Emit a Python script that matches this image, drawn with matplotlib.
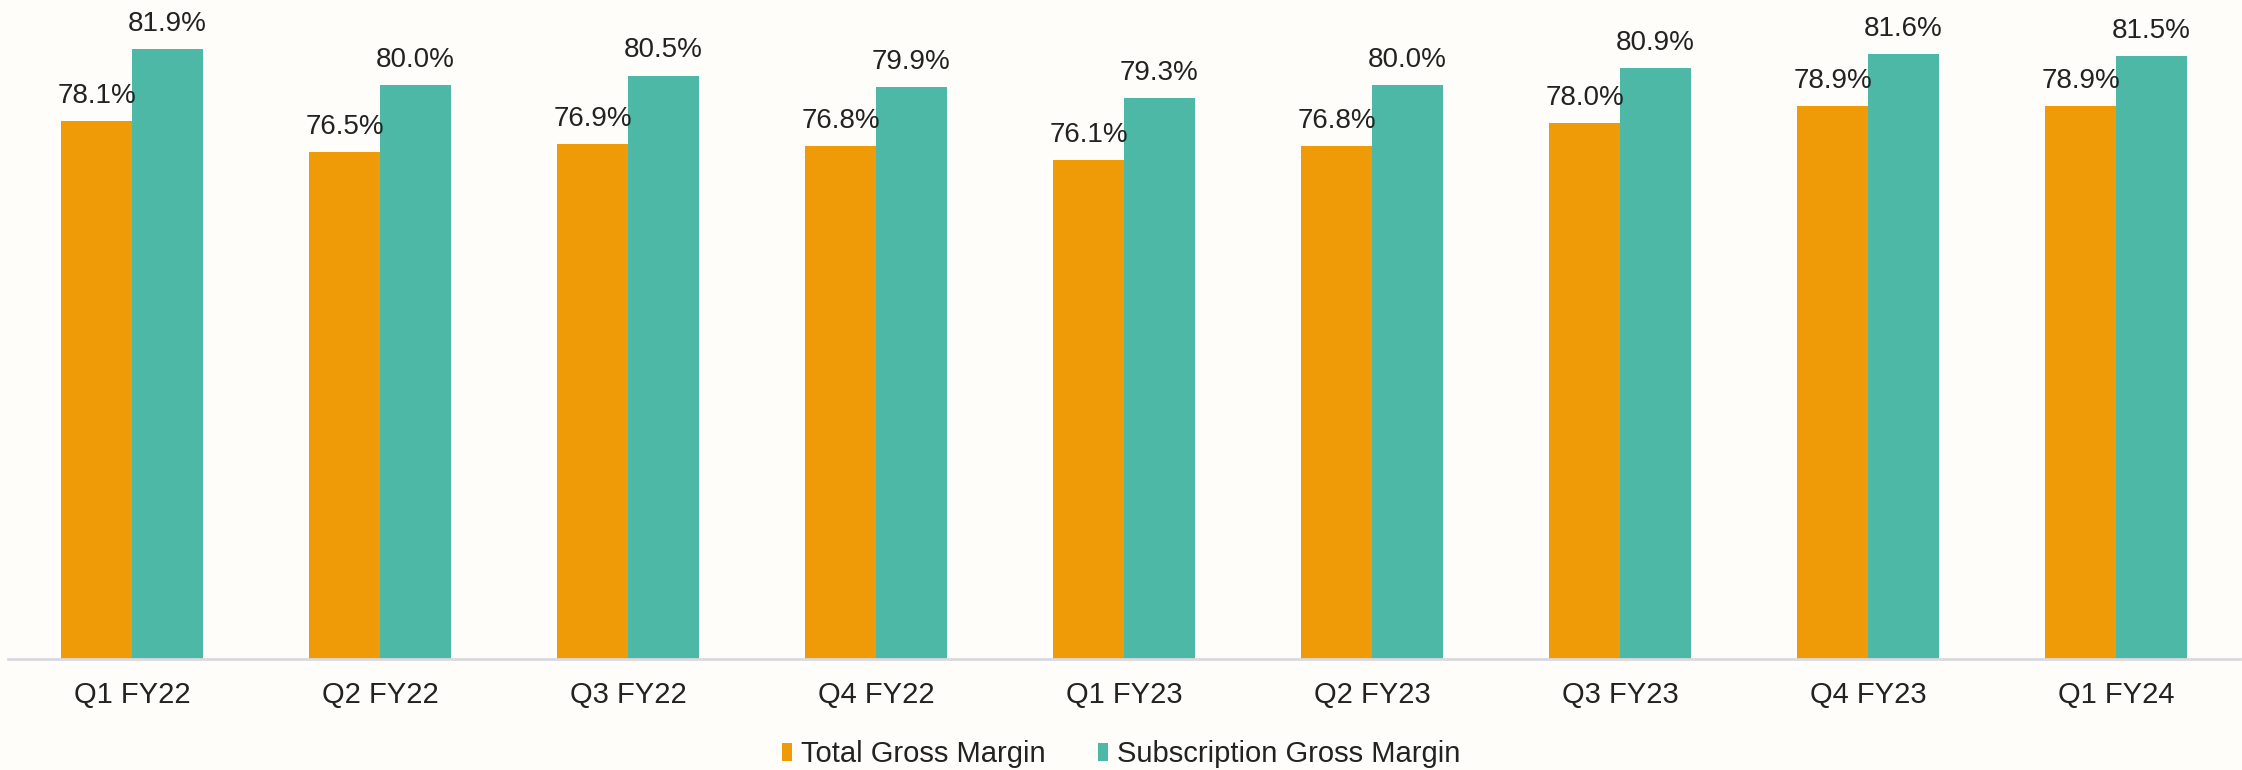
import numpy as np
import matplotlib
matplotlib.use("Agg")
import matplotlib.pyplot as plt

quarters = ["Q1 FY22", "Q2 FY22", "Q3 FY22", "Q4 FY22", "Q1 FY23",
            "Q2 FY23", "Q3 FY23", "Q4 FY23", "Q1 FY24"]
total_gm = [78.1, 76.5, 76.9, 76.8, 76.1, 76.8, 78.0, 78.9, 78.9]
subs_gm = [81.9, 80.0, 80.5, 79.9, 79.3, 80.0, 80.9, 81.6, 81.5]

orange = "#EF9B07"
teal = "#4DB8A5"
bg = "#FFFDF9"
txt = "#222222"

plt.rcParams['font.family'] = ['Liberation Sans', 'DejaVu Sans']

fig = plt.figure(figsize=(22.42, 7.70), dpi=100, facecolor=bg)
ax = fig.add_axes([8 / 2242, 111 / 770, 2232 / 2242, 659 / 770])
ax.set_facecolor(bg)

x = np.arange(len(quarters))
w = 0.286
b1 = ax.bar(x - w / 2, total_gm, w, color=orange, label="Total Gross Margin")
b2 = ax.bar(x + w / 2, subs_gm, w, color=teal, label="Subscription Gross Margin")

for bars, vals in ((b1, total_gm), (b2, subs_gm)):
    for r, v in zip(bars, vals):
        ax.annotate(f"{v:.1f}%", (r.get_x() + r.get_width() / 2, v),
                    xytext=(0, 13), textcoords="offset points",
                    ha="center", va="baseline", fontsize=20, color=txt)

ax.set_xlim(-0.5, len(quarters) - 0.5)
ax.set_ylim(50, 50 + 659 / 19.13)
ax.set_xticks(x)
ax.set_xticklabels(quarters, fontsize=21, color=txt)
ax.tick_params(axis="x", length=0, pad=16)
ax.set_yticks([])
for s in ["top", "right", "left"]:
    ax.spines[s].set_visible(False)
ax.spines["bottom"].set_color("#D9D9DE")
ax.spines["bottom"].set_linewidth(2)

fig.legend(loc="center", bbox_to_anchor=(0.5, 16 / 770), ncol=2, frameon=False,
           fontsize=21, handlelength=0.36, handleheight=0.57, handletextpad=0.3,
           columnspacing=1.8, labelcolor=txt)

fig.savefig("out.png", dpi=100, facecolor=bg)
